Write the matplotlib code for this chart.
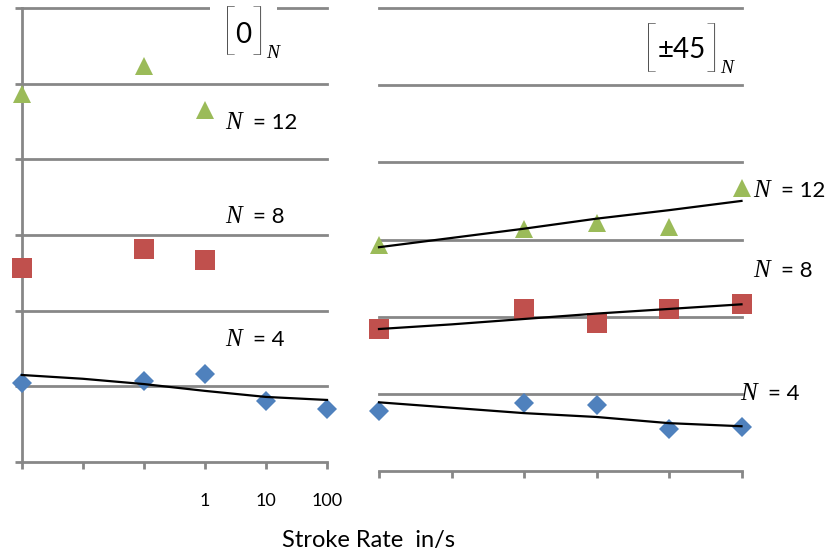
import matplotlib
matplotlib.use("Agg")
import matplotlib.pyplot as plt
from matplotlib.ticker import NullLocator

# ---------------- data ----------------
x_ticks = [0.001, 0.01, 0.1, 1, 10, 100]
left_tick_labels = ["", "", "", "1", "10", "100"]
right_tick_labels = ["", "", "", "", "", ""]

# [0]_N panel
l_x3 = [0.001, 0.1, 1]
l_x5 = [0.001, 0.1, 1, 10, 100]
l_n12 = [4.87, 5.24, 4.65]
l_n8 = [2.56, 2.81, 2.67]
l_n4 = [1.04, 1.07, 1.16, 0.81, 0.70]
l_fit4 = [1.15, 1.10, 1.03, 0.94, 0.86, 0.82]

# [±45]_N panel
r_x5 = [0.001, 0.1, 1, 10, 100]
r_n12 = [2.93, 3.13, 3.21, 3.16, 3.67]
r_n8 = [1.84, 2.10, 1.92, 2.10, 2.16]
r_n4 = [0.78, 0.88, 0.85, 0.54, 0.57]
r_fit12 = [2.90, 3.02, 3.14, 3.27, 3.38, 3.50]
r_fit8 = [1.84, 1.90, 1.97, 2.04, 2.10, 2.16]
r_fit4 = [0.89, 0.82, 0.75, 0.70, 0.62, 0.58]

grid_levels = [1, 2, 3, 4, 5, 6]

# ---------------- style ----------------
plt.rcParams['font.family'] = ['Lato', 'DejaVu Sans']
plt.rcParams['mathtext.fontset'] = 'custom'
plt.rcParams['mathtext.it'] = 'Liberation Serif:italic'
plt.rcParams['mathtext.rm'] = 'Lato'

BLUE = '#4F81BD'
RED = '#C0504D'
GREEN = '#9BBB59'
GRID = '#878787'

W, H = 833, 558
fig = plt.figure(figsize=(W / 100, H / 100), dpi=100)


def fx(px):
    return px / W


def fy(py):
    return 1 - py / H


ax1 = fig.add_axes([fx(21.7), fy(462), fx(327) - fx(21.7), fy(8) - fy(462)])
ax2 = fig.add_axes([fx(379), fy(471), fx(741.5) - fx(379), fy(8) - fy(471)])

for ax in (ax1, ax2):
    ax.set_xscale('log')
    ax.set_xlim(0.001, 100)
    ax.set_ylim(0, 6)
    ax.set_xticks(x_ticks)
    ax.xaxis.set_minor_locator(NullLocator())
    for s in ('top', 'right'):
        ax.spines[s].set_visible(False)
    ax.spines['bottom'].set_color(GRID)
    ax.spines['bottom'].set_linewidth(2)
    ax.tick_params(axis='x', direction='out', length=5, width=2, color=GRID,
                   pad=17, labelsize=13, labelcolor='black')
    for g in grid_levels:
        ax.axhline(g, color=GRID, lw=2, zorder=1, clip_on=False)
    ax.patch.set_visible(False)

ax1.set_xticklabels(left_tick_labels)
ax2.set_xticklabels(right_tick_labels)

ax1.spines['left'].set_color(GRID)
ax1.spines['left'].set_linewidth(2)
ax1.set_yticks([0] + grid_levels)
ax1.set_yticklabels([])
ax1.tick_params(axis='y', direction='out', length=5, width=2, color=GRID)
ax1.spines['left'].set_zorder(1)

ax2.spines['left'].set_visible(False)
ax2.set_yticks([])

mk = dict(linestyle='none', markeredgewidth=0, zorder=3, clip_on=False)
ax1.plot(l_x3, l_n12, marker='^', ms=13.5, color=GREEN, **mk)
ax1.plot(l_x3, l_n8, marker='s', ms=14, color=RED, **mk)
ax1.plot(l_x5, l_n4, marker='D', ms=9.7, color=BLUE, **mk)
ax1.plot(x_ticks, l_fit4, color='black', lw=1.6, zorder=4, clip_on=False)

ax2.plot(r_x5, r_n12, marker='^', ms=13.5, color=GREEN, **mk)
ax2.plot(r_x5, r_n8, marker='s', ms=14, color=RED, **mk)
ax2.plot(r_x5, r_n4, marker='D', ms=9.7, color=BLUE, **mk)
ax2.plot(x_ticks, r_fit12, color='black', lw=1.6, zorder=4, clip_on=False)
ax2.plot(x_ticks, r_fit8, color='black', lw=1.6, zorder=4, clip_on=False)
ax2.plot(x_ticks, r_fit4, color='black', lw=1.6, zorder=4, clip_on=False)

# ---------------- labels ----------------
for (px, py, t) in [(225, 129, '12'), (225, 223, '8'), (225, 346, '4'),
                    (753, 197, '12'), (753, 277, '8'), (740, 400, '4')]:
    fig.text(fx(px), fy(py), r'$N$', fontsize=18, ha='left', va='baseline')
    fig.text(fx(px + 28), fy(py), '= ' + t, fontsize=16, ha='left', va='baseline')

# bracket labels
fig.text(fx(243.5), fy(35), '0', fontsize=20, ha='center', va='center',
         bbox=dict(boxstyle='square,pad=0.9', fc='white', ec='none'))
fig.text(fx(228.5), fy(33), '[', fontsize=40, ha='center', va='center', fontweight='light')
fig.text(fx(259), fy(33), ']', fontsize=40, ha='center', va='center', fontweight='light')
fig.text(fx(266), fy(58), r'$N$', fontsize=14, ha='left', va='baseline')

fig.text(fx(682), fy(50), '±45', fontsize=20, ha='center', va='center')
fig.text(fx(650), fy(50), '[', fontsize=40, ha='center', va='center', fontweight='light')
fig.text(fx(713), fy(50), ']', fontsize=40, ha='center', va='center', fontweight='light')
fig.text(fx(720), fy(73), r'$N$', fontsize=14, ha='left', va='baseline')

fig.text(fx(368), fy(541), 'Stroke Rate  in/s', fontsize=17, ha='center', va='center')

fig.savefig('out.png', dpi=100)
